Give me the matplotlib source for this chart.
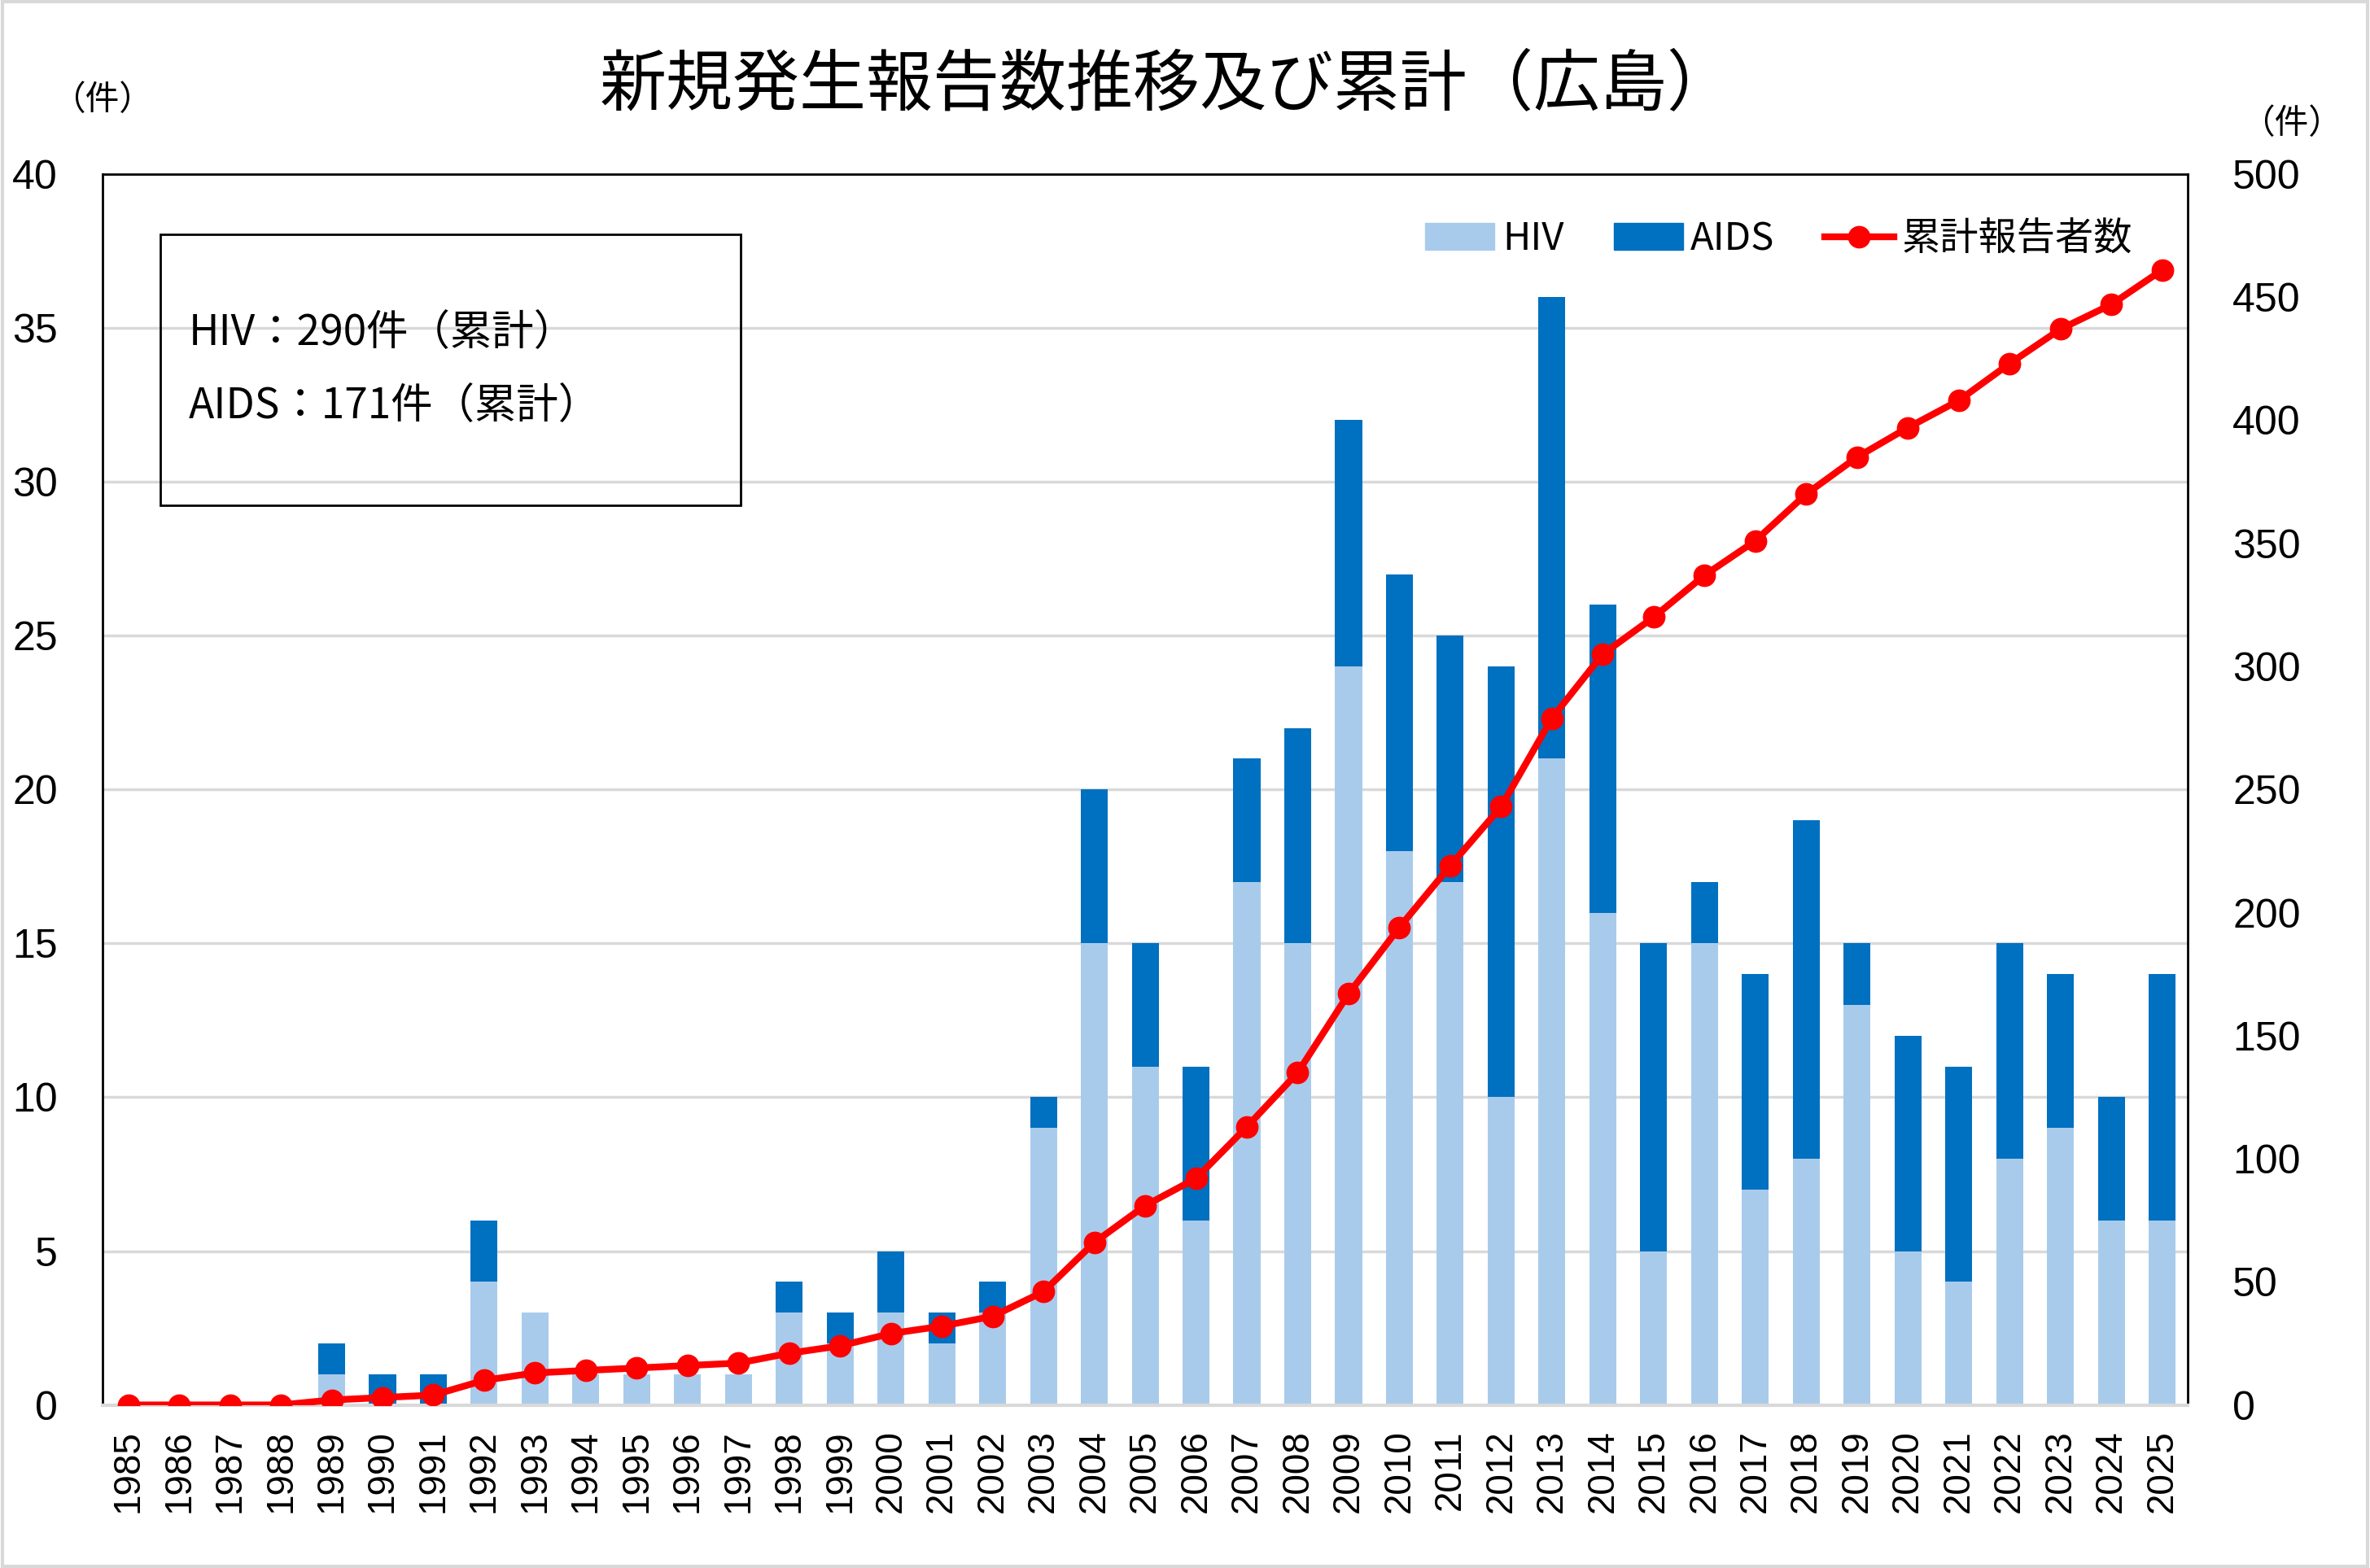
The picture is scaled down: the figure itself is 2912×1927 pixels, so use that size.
import matplotlib
matplotlib.use("Agg")
import matplotlib.pyplot as plt
from matplotlib.patches import Rectangle
from matplotlib.lines import Line2D
from matplotlib.patches import Patch
import numpy as np

plt.rcParams['font.family'] = ['Noto Sans CJK JP', 'DejaVu Sans']

years = [str(y) for y in range(1985, 2026)]

hiv = [0, 0, 0, 0, 1, 0, 0, 4, 3, 1,
       1, 1, 1, 3, 2, 3, 2, 3, 9, 15,
       11, 6, 17, 15, 24, 18, 17, 10, 21, 16,
       5, 15, 7, 8, 13, 5, 4, 8, 9, 6,
       6]
aids = [0, 0, 0, 0, 1, 1, 1, 2, 0, 0,
        0, 0, 0, 1, 1, 2, 1, 1, 1, 5,
        4, 5, 4, 7, 8, 9, 8, 14, 15, 10,
        10, 2, 7, 11, 2, 7, 7, 7, 5, 4,
        8]
cumulative = [0, 0, 0, 0, 2, 3, 4, 10, 13, 14,
              15, 16, 17, 21, 24, 29, 32, 36, 46, 66,
              81, 92, 113, 135, 167, 194, 219, 243, 279, 305,
              320, 337, 351, 370, 385, 397, 408, 423, 437, 447,
              461]

left_ticks = [0, 5, 10, 15, 20, 25, 30, 35, 40]
right_ticks = [0, 50, 100, 150, 200, 250, 300, 350, 400, 450, 500]

c_hiv = '#A9CBEB'
c_aids = '#0070C0'
c_line = '#FF0000'
c_grid = '#D9D9D9'
num_font = 'Liberation Sans'

fig = plt.figure(figsize=(29.12, 19.27), dpi=100)
ax = fig.add_axes([0.0434, 0.104, 0.8796, 0.785])

x = np.arange(len(years))
ax.bar(x, hiv, width=0.53, color=c_hiv, zorder=2)
ax.bar(x, aids, width=0.53, bottom=hiv, color=c_aids, zorder=2)

ax.set_xlim(-0.5, len(years) - 0.5)
ax.set_ylim(0, 40)
ax.set_yticks(left_ticks)
ax.set_yticklabels([str(t) for t in left_ticks], fontsize=36, family=num_font)
ax.set_xticks(x)
ax.set_xticklabels(years, rotation=90, fontsize=33, family=num_font)
ax.tick_params(axis='y', length=0, pad=40)
ax.tick_params(axis='x', length=0, pad=22)
ax.yaxis.grid(True, color=c_grid, linewidth=2.5)
ax.set_axisbelow(True)
for s in ['left', 'top', 'right']:
    ax.spines[s].set_color('black')
    ax.spines[s].set_linewidth(2)
ax.spines['bottom'].set_color(c_grid)
ax.spines['bottom'].set_linewidth(3)

ax2 = ax.twinx()
ax2.plot(x, cumulative, color=c_line, linewidth=6, marker='o',
         markersize=19, zorder=3)
ax2.set_ylim(0, 500)
ax2.set_yticks(right_ticks)
ax2.set_yticklabels([str(t) for t in right_ticks], fontsize=36, family=num_font)
ax2.tick_params(axis='y', length=0, pad=40)
for s in ax2.spines.values():
    s.set_visible(False)

# unit labels
fig.text(0.043, 0.936, '（件）', fontsize=30, ha='center', va='center')
fig.text(0.967, 0.921, '（件）', fontsize=30, ha='center', va='center')

# title
fig.text(0.4925, 0.945, '新規発生報告数推移及び累計（広島）', fontsize=59,
         ha='center', va='center')

# summary box
ax.add_patch(Rectangle((0.0276, 0.731), 0.2785, 0.220, transform=ax.transAxes,
                       fill=False, edgecolor='black', linewidth=2, zorder=5))
ax.text(0.041, 0.871, 'HIV：290件（累計）', transform=ax.transAxes,
        fontsize=37, va='center', ha='left', zorder=6)
ax.text(0.041, 0.811, 'AIDS：171件（累計）', transform=ax.transAxes,
        fontsize=37, va='center', ha='left', zorder=6)

handles = [Patch(color=c_hiv), Patch(color=c_aids),
           Line2D([], [], color=c_line, linewidth=6, marker='o', markersize=19)]
leg = ax2.legend(handles, ['HIV', 'AIDS', '累計報告者数'], ncol=3,
                 loc='center right', bbox_to_anchor=(0.99, 0.947),
                 frameon=False, fontsize=34, handlelength=1.8,
                 handletextpad=0.2, columnspacing=1.3)

fig.patches.append(Rectangle((0.001, 0.001), 0.998, 0.998,
                             transform=fig.transFigure, fill=False,
                             edgecolor=c_grid, linewidth=3))

fig.savefig('out.png', dpi=100)
